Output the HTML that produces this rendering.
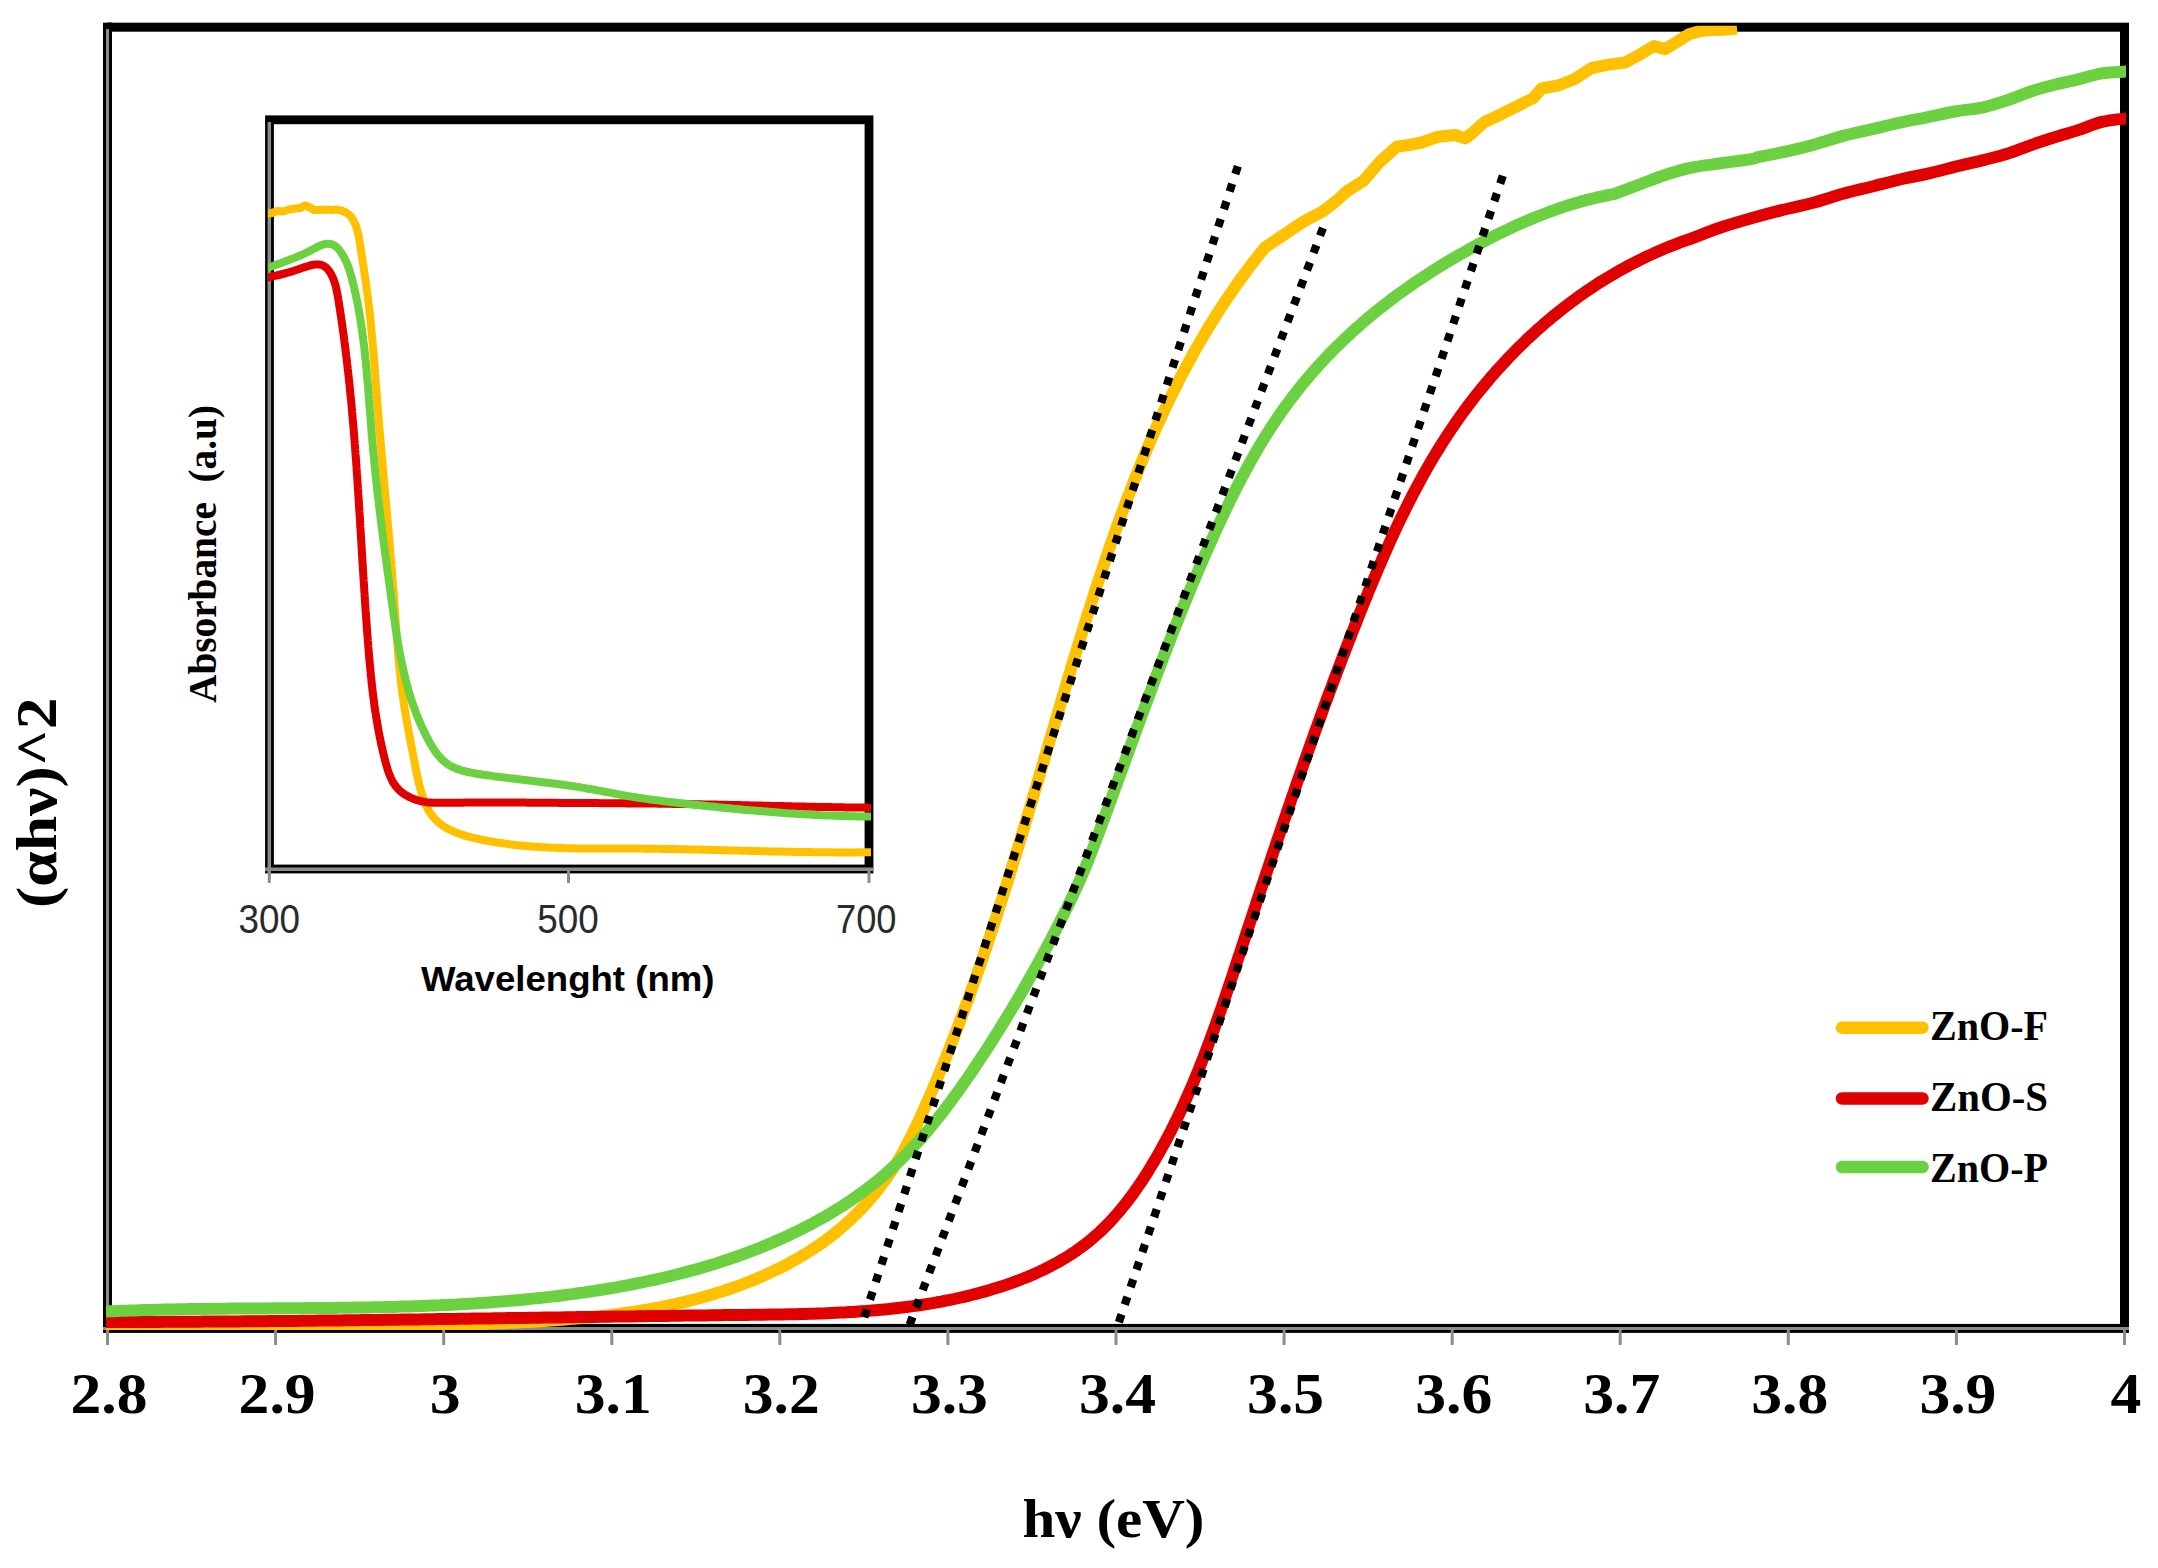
<!DOCTYPE html>
<html><head><meta charset="utf-8"><title>ZnO band gap plot</title>
<style>html,body{margin:0;padding:0;background:#fff;width:2158px;height:1568px;overflow:hidden}svg{display:block}</style>
</head><body>
<svg width="2158" height="1568" viewBox="0 0 2158 1568"><defs><clipPath id="cm"><rect x="106" y="25.7" width="2020" height="1304.3"/></clipPath>
<clipPath id="ci"><rect x="268" y="124" width="603" height="740"/></clipPath></defs>
<rect x="107.5" y="27.2" width="2017" height="1301.2" fill="none" stroke="#000" stroke-width="9"/>
<rect x="107.5" y="22.5" width="4.5" height="1" fill="#000"/>
<path d="M107.5,29V1333M103,1328.5H2129" stroke="#8C8C8C" stroke-width="3" fill="none"/>
<path d="M107.5,1328.5V1345M275.6,1328.5V1345M443.7,1328.5V1345M611.8,1328.5V1345M779.8,1328.5V1345M947.9,1328.5V1345M1116,1328.5V1345M1284.1,1328.5V1345M1452.2,1328.5V1345M1620.2,1328.5V1345M1788.3,1328.5V1345M1956.4,1328.5V1345M2124.5,1328.5V1345" stroke="#8C8C8C" stroke-width="3" fill="none"/>
<g font-family="Liberation Serif, serif" font-weight="bold" font-size="56" text-anchor="middle" fill="#000"><text x="109" y="1413" textLength="77" lengthAdjust="spacingAndGlyphs">2.8</text><text x="277.1" y="1413" textLength="77" lengthAdjust="spacingAndGlyphs">2.9</text><text x="445.2" y="1413" textLength="30.8" lengthAdjust="spacingAndGlyphs">3</text><text x="613.2" y="1413" textLength="77" lengthAdjust="spacingAndGlyphs">3.1</text><text x="781.3" y="1413" textLength="77" lengthAdjust="spacingAndGlyphs">3.2</text><text x="949.4" y="1413" textLength="77" lengthAdjust="spacingAndGlyphs">3.3</text><text x="1117.5" y="1413" textLength="77" lengthAdjust="spacingAndGlyphs">3.4</text><text x="1285.6" y="1413" textLength="77" lengthAdjust="spacingAndGlyphs">3.5</text><text x="1453.7" y="1413" textLength="77" lengthAdjust="spacingAndGlyphs">3.6</text><text x="1621.8" y="1413" textLength="77" lengthAdjust="spacingAndGlyphs">3.7</text><text x="1789.8" y="1413" textLength="77" lengthAdjust="spacingAndGlyphs">3.8</text><text x="1957.9" y="1413" textLength="77" lengthAdjust="spacingAndGlyphs">3.9</text><text x="2126" y="1413" textLength="30.8" lengthAdjust="spacingAndGlyphs">4</text></g>
<text x="1022.5" y="1536.5" font-family="Liberation Serif, serif" font-weight="bold" font-size="54" textLength="182" lengthAdjust="spacingAndGlyphs">hν (eV)</text>
<text transform="translate(55.5,908) rotate(-90)" font-family="Liberation Serif, serif" font-weight="bold" font-size="56.5" textLength="210.5" lengthAdjust="spacingAndGlyphs">(αhν)^2</text>
<g clip-path="url(#cm)" fill="none" stroke-width="12" stroke-linejoin="round" stroke-linecap="butt"><path d="M106,1326L109.7,1325.9L113.3,1325.9L117,1325.8L120.7,1325.7L124.4,1325.7L128,1325.6L131.7,1325.6L135.4,1325.5L139,1325.5L142.7,1325.4L146.4,1325.4L150.1,1325.4L153.7,1325.3L157.4,1325.3L161.1,1325.3L164.8,1325.3L168.4,1325.2L172.1,1325.2L175.8,1325.2L179.5,1325.2L183.1,1325.2L186.8,1325.2L190.5,1325.2L194.2,1325.2L197.8,1325.2L201.5,1325.2L205.2,1325.2L208.9,1325.2L212.5,1325.2L216.2,1325.2L219.9,1325.2L223.6,1325.2L227.2,1325.3L230.9,1325.3L234.6,1325.3L238.3,1325.3L241.9,1325.3L245.6,1325.3L249.3,1325.4L253,1325.4L256.6,1325.4L260.3,1325.4L264,1325.5L267.7,1325.5L271.3,1325.5L275,1325.5L278.7,1325.6L282.4,1325.6L286.1,1325.6L289.7,1325.6L293.4,1325.6L297.1,1325.7L300.8,1325.7L304.4,1325.7L308.1,1325.7L311.8,1325.8L315.5,1325.8L319.1,1325.8L322.8,1325.8L326.5,1325.8L330.2,1325.8L333.9,1325.8L337.5,1325.9L341.2,1325.9L344.9,1325.9L348.6,1325.9L352.2,1325.9L355.9,1325.9L359.6,1325.9L363.3,1325.9L366.9,1325.9L370.6,1325.9L374.3,1325.9L378,1325.8L381.6,1325.8L385.3,1325.8L389,1325.8L392.7,1325.8L396.3,1325.7L400,1325.7L403.7,1325.7L407.4,1325.6L411,1325.6L414.7,1325.6L418.4,1325.5L422.1,1325.5L425.7,1325.4L429.4,1325.3L433.1,1325.3L436.8,1325.2L440.4,1325.1L444.1,1325.1L447.8,1325L451.5,1324.9L455.1,1324.8L458.8,1324.7L462.5,1324.6L466.1,1324.5L469.8,1324.4L473.5,1324.3L477.2,1324.2L480.8,1324L484.5,1323.9L488.2,1323.8L491.8,1323.6L495.5,1323.5L499.2,1323.3L502.9,1323.2L506.5,1323L510.2,1322.8L513.9,1322.7L517.5,1322.5L521.2,1322.3L524.9,1322.1L528.5,1321.9L532.2,1321.7L535.9,1321.5L539.5,1321.2L543.2,1321L546.9,1320.8L550.5,1320.5L554.2,1320.3L557.9,1320L561.5,1319.7L565.2,1319.4L568.9,1319.1L572.5,1318.8L576.2,1318.5L579.8,1318.2L583.5,1317.9L587.1,1317.5L590.8,1317.2L594.5,1316.8L598.1,1316.4L601.7,1316L605.4,1315.6L609,1315.2L612.7,1314.7L616.3,1314.2L620,1313.8L623.6,1313.3L627.2,1312.8L630.8,1312.2L634.5,1311.7L638.1,1311.1L641.7,1310.5L645.3,1309.9L648.9,1309.3L652.5,1308.7L656.2,1308L659.8,1307.3L663.4,1306.6L666.9,1305.9L670.5,1305.1L674.1,1304.3L677.7,1303.5L681.3,1302.7L684.9,1301.9L688.4,1301L692,1300.1L695.5,1299.2L699.1,1298.3L702.6,1297.3L706.2,1296.3L709.7,1295.3L713.2,1294.2L716.8,1293.1L720.3,1292L723.8,1290.9L727.3,1289.7L730.8,1288.5L734.3,1287.3L737.7,1286.1L741.2,1284.8L744.6,1283.5L748.1,1282.1L751.5,1280.8L754.9,1279.4L758.3,1277.9L761.7,1276.5L765.1,1275L768.5,1273.4L771.8,1271.9L775.2,1270.3L778.5,1268.7L781.8,1267L785.1,1265.3L788.4,1263.6L791.6,1261.8L794.8,1260.1L798.1,1258.2L801.2,1256.4L804.4,1254.5L807.5,1252.5L810.7,1250.6L813.7,1248.6L816.8,1246.5L819.8,1244.4L822.8,1242.3L825.8,1240.2L828.7,1238L831.6,1235.8L834.5,1233.5L837.3,1231.2L840.1,1228.9L842.9,1226.5L845.6,1224.1L848.3,1221.6L851,1219.2L853.6,1216.6L856.2,1214.1L858.8,1211.5L861.3,1208.9L863.8,1206.3L866.3,1203.6L868.7,1200.9L871,1198.1L873.4,1195.3L875.7,1192.5L878,1189.7L880.2,1186.8L882.4,1183.9L884.5,1181L886.6,1178L888.7,1175L890.8,1172L892.8,1168.9L894.7,1165.9L896.6,1162.8L898.5,1159.6L900.4,1156.5L902.2,1153.3L904,1150.1L905.7,1146.9L907.4,1143.6L909.1,1140.4L910.8,1137.1L912.4,1133.8L914.1,1130.5L915.7,1127.2L917.2,1123.8L918.8,1120.5L920.3,1117.1L921.9,1113.8L923.4,1110.4L924.9,1107L926.4,1103.7L927.9,1100.3L929.4,1096.9L930.8,1093.5L932.3,1090.1L933.7,1086.7L935.2,1083.4L936.6,1080L938,1076.6L939.4,1073.2L940.8,1069.8L942.2,1066.4L943.6,1063L945,1059.6L946.4,1056.1L947.8,1052.7L949.1,1049.3L950.5,1045.9L951.8,1042.5L953.2,1039L954.5,1035.6L955.8,1032.2L957.1,1028.8L958.4,1025.3L959.7,1021.9L961,1018.5L962.3,1015L963.6,1011.6L964.9,1008.1L966.1,1004.7L967.4,1001.3L968.7,997.8L969.9,994.4L971.2,990.9L972.4,987.4L973.6,984L974.8,980.5L976.1,977.1L977.3,973.6L978.5,970.1L979.7,966.7L980.9,963.2L982.1,959.7L983.3,956.3L984.4,952.8L985.6,949.3L986.8,945.9L987.9,942.4L989.1,938.9L990.3,935.4L991.4,931.9L992.6,928.5L993.7,925L994.8,921.5L996,918L997.1,914.5L998.2,911L999.3,907.5L1000.5,904L1001.6,900.5L1002.7,897L1003.8,893.6L1004.9,890.1L1006,886.6L1007.1,883.1L1008.2,879.6L1009.3,876L1010.4,872.5L1011.4,869L1012.5,865.5L1013.6,862L1014.7,858.5L1015.7,855L1016.8,851.5L1017.9,848L1018.9,844.5L1020,841L1021.1,837.5L1022.1,833.9L1023.2,830.4L1024.2,826.9L1025.3,823.4L1026.3,819.9L1027.4,816.4L1028.4,812.8L1029.5,809.3L1030.5,805.8L1031.6,802.3L1032.6,798.8L1033.6,795.2L1034.7,791.7L1035.7,788.2L1036.8,784.7L1037.8,781.2L1038.8,777.6L1039.9,774.1L1040.9,770.6L1041.9,767.1L1043,763.5L1044,760L1045,756.5L1046.1,753L1047.1,749.4L1048.1,745.9L1049.2,742.4L1050.2,738.9L1051.2,735.3L1052.3,731.8L1053.3,728.3L1054.4,724.7L1055.4,721.2L1056.4,717.7L1057.5,714.2L1058.5,710.6L1059.6,707.1L1060.6,703.6L1061.6,700.1L1062.7,696.5L1063.7,693L1064.8,689.5L1065.8,686L1066.9,682.4L1067.9,678.9L1069,675.4L1070.1,671.9L1071.1,668.3L1072.2,664.8L1073.2,661.3L1074.3,657.8L1075.4,654.2L1076.5,650.7L1077.5,647.2L1078.6,643.7L1079.7,640.2L1080.8,636.6L1081.9,633.1L1083,629.6L1084,626.1L1085.1,622.6L1086.2,619.1L1087.3,615.5L1088.5,612L1089.6,608.5L1090.7,605L1091.8,601.5L1092.9,598L1094,594.5L1095.2,591L1096.3,587.5L1097.5,583.9L1098.6,580.4L1099.7,576.9L1100.9,573.4L1102.1,569.9L1103.2,566.4L1104.4,562.9L1105.6,559.5L1106.8,556L1107.9,552.5L1109.1,549L1110.3,545.5L1111.5,542L1112.8,538.5L1114,535.1L1115.2,531.6L1116.4,528.1L1117.7,524.6L1118.9,521.2L1120.2,517.7L1121.4,514.3L1122.7,510.8L1124,507.3L1125.3,503.9L1126.6,500.4L1127.9,497L1129.2,493.6L1130.5,490.1L1131.8,486.7L1133.1,483.3L1134.5,479.9L1135.8,476.4L1137.2,473L1138.6,469.6L1139.9,466.2L1141.3,462.8L1142.7,459.4L1144.1,456L1145.5,452.6L1147,449.2L1148.4,445.9L1149.8,442.5L1151.3,439.1L1152.8,435.8L1154.2,432.4L1155.7,429.1L1157.2,425.7L1158.7,422.4L1160.3,419.1L1161.8,415.7L1163.3,412.4L1164.9,409.1L1166.5,405.8L1168,402.5L1169.6,399.2L1171.2,395.9L1172.9,392.6L1174.5,389.3L1176.1,386.1L1177.8,382.8L1179.4,379.5L1181.1,376.3L1182.8,373.1L1184.5,369.8L1186.2,366.6L1188,363.4L1189.7,360.2L1191.5,357L1193.3,353.8L1195,350.6L1196.8,347.4L1198.7,344.2L1200.5,341L1202.3,337.9L1204.2,334.7L1206.1,331.6L1208,328.5L1209.9,325.3L1211.8,322.2L1213.7,319.1L1215.7,316L1217.6,312.9L1219.6,309.8L1221.6,306.8L1223.6,303.7L1225.7,300.6L1227.7,297.6L1229.8,294.6L1231.9,291.5L1234,288.5L1236.1,285.5L1238.2,282.5L1240.3,279.5L1242.5,276.6L1244.7,273.6L1246.9,270.6L1249.1,267.7L1251.4,264.7L1253.6,261.8L1255.9,258.9L1258.2,256L1260.5,253.1L1262.8,250.2L1265.2,247.3L1284.3,234.5L1303.5,221.6L1322.6,211.5L1336.9,200.5L1346.7,191.3L1363.4,180.9L1380,161.7L1396.7,146.7L1409.2,145L1421.7,142.5L1438.4,136.7L1455.1,135L1465.1,138.4L1471.8,133.4L1484.3,122.1L1496.8,116.3L1516.7,106.3L1533.4,98L1541.7,88.4L1558.4,85.5L1575.1,78.8L1591.7,68L1608.4,64.6L1625.1,62.5L1641.8,53.4L1654.3,45.9L1665.1,49.2L1677.8,41.4L1688.9,34.2L1700,31.1L1711.2,30L1722.3,29.7L1737,28.5" stroke="#FFC000"/><path d="M106,1322L110.4,1322L114.9,1322L119.3,1322L123.8,1322L128.2,1322L132.7,1321.9L137.1,1321.9L141.6,1321.9L146,1321.9L150.5,1321.9L154.9,1321.9L159.3,1321.9L163.8,1321.8L168.2,1321.8L172.7,1321.8L177.1,1321.8L181.5,1321.8L186,1321.7L190.4,1321.7L194.8,1321.7L199.3,1321.7L203.7,1321.6L208.1,1321.6L212.5,1321.6L217,1321.5L221.4,1321.5L225.8,1321.5L230.2,1321.5L234.7,1321.4L239.1,1321.4L243.5,1321.3L247.9,1321.3L252.3,1321.3L256.8,1321.2L261.2,1321.2L265.6,1321.2L270,1321.1L274.4,1321.1L278.9,1321L283.3,1321L287.7,1321L292.1,1320.9L296.5,1320.9L300.9,1320.8L305.3,1320.8L309.7,1320.7L314.2,1320.7L318.6,1320.6L323,1320.6L327.4,1320.5L331.8,1320.5L336.2,1320.4L340.6,1320.4L345,1320.3L349.4,1320.3L353.8,1320.2L358.2,1320.2L362.7,1320.1L367.1,1320.1L371.5,1320L375.9,1320L380.3,1319.9L384.7,1319.8L389.1,1319.8L393.5,1319.7L397.9,1319.7L402.3,1319.6L406.7,1319.6L411.1,1319.5L415.5,1319.4L419.9,1319.4L424.3,1319.3L428.7,1319.3L433.1,1319.2L437.5,1319.1L441.9,1319.1L446.3,1319L450.7,1319L455.2,1318.9L459.6,1318.8L464,1318.8L468.4,1318.7L472.8,1318.6L477.2,1318.6L481.6,1318.5L486,1318.5L490.4,1318.4L494.8,1318.3L499.2,1318.3L503.6,1318.2L508,1318.1L512.4,1318.1L516.8,1318L521.2,1317.9L525.6,1317.9L530.1,1317.8L534.5,1317.7L538.9,1317.7L543.3,1317.6L547.7,1317.6L552.1,1317.5L556.5,1317.4L560.9,1317.4L565.3,1317.3L569.8,1317.2L574.2,1317.2L578.6,1317.1L583,1317L587.4,1317L591.8,1316.9L596.2,1316.9L600.7,1316.8L605.1,1316.7L609.5,1316.7L613.9,1316.6L618.3,1316.5L622.8,1316.5L627.2,1316.4L631.6,1316.4L636,1316.3L640.4,1316.2L644.9,1316.2L649.3,1316.1L653.7,1316.1L658.2,1316L662.6,1315.9L667,1315.9L671.4,1315.8L675.9,1315.8L680.3,1315.7L684.7,1315.6L689.2,1315.6L693.6,1315.5L698,1315.5L702.5,1315.4L706.9,1315.4L711.4,1315.3L715.8,1315.2L720.3,1315.2L724.7,1315.1L729.1,1315.1L733.6,1315L738,1315L742.5,1314.9L746.9,1314.9L751.4,1314.8L755.8,1314.8L760.3,1314.7L764.7,1314.7L769.2,1314.6L773.7,1314.5L778.1,1314.5L782.6,1314.4L787,1314.3L791.5,1314.2L795.9,1314.2L800.4,1314L804.8,1313.9L809.3,1313.8L813.7,1313.7L818.2,1313.5L822.6,1313.4L827.1,1313.2L831.5,1313L835.9,1312.8L840.4,1312.6L844.8,1312.4L849.3,1312.1L853.7,1311.9L858.1,1311.6L862.5,1311.3L866.9,1311L871.4,1310.6L875.8,1310.2L880.2,1309.8L884.6,1309.4L889,1309L893.4,1308.5L897.8,1308L902.2,1307.5L906.5,1307L910.9,1306.4L915.3,1305.8L919.6,1305.2L924,1304.5L928.3,1303.8L932.7,1303.1L937,1302.3L941.4,1301.6L945.7,1300.7L950,1299.9L954.3,1299L958.6,1298L962.9,1297.1L967.2,1296.1L971.5,1295L975.8,1293.9L980,1292.8L984.3,1291.6L988.5,1290.4L992.8,1289.1L997,1287.8L1001.2,1286.5L1005.4,1285.1L1009.6,1283.7L1013.8,1282.2L1017.9,1280.6L1022.1,1279L1026.2,1277.4L1030.2,1275.7L1034.3,1273.9L1038.3,1272.1L1042.3,1270.3L1046.2,1268.3L1050.1,1266.4L1054,1264.3L1057.9,1262.2L1061.7,1260L1065.4,1257.8L1069.1,1255.5L1072.8,1253.1L1076.4,1250.7L1079.9,1248.2L1083.4,1245.6L1086.9,1242.9L1090.3,1240.2L1093.6,1237.4L1096.9,1234.5L1100.1,1231.6L1103.2,1228.6L1106.3,1225.5L1109.4,1222.4L1112.4,1219.2L1115.3,1215.9L1118.2,1212.6L1121,1209.2L1123.8,1205.8L1126.5,1202.4L1129.2,1198.9L1131.9,1195.3L1134.5,1191.7L1137,1188.1L1139.6,1184.4L1142,1180.8L1144.5,1177L1146.9,1173.3L1149.2,1169.5L1151.5,1165.7L1153.8,1161.9L1156.1,1158L1158.3,1154.2L1160.5,1150.3L1162.6,1146.4L1164.8,1142.5L1166.9,1138.6L1168.9,1134.7L1171,1130.8L1173,1126.8L1174.9,1122.8L1176.9,1118.9L1178.8,1114.9L1180.7,1110.9L1182.6,1106.9L1184.4,1102.8L1186.2,1098.8L1188,1094.8L1189.8,1090.7L1191.6,1086.6L1193.3,1082.6L1195,1078.5L1196.7,1074.4L1198.4,1070.3L1200,1066.2L1201.6,1062.1L1203.3,1057.9L1204.8,1053.8L1206.4,1049.7L1208,1045.5L1209.5,1041.4L1211.1,1037.2L1212.6,1033L1214.1,1028.9L1215.6,1024.7L1217.1,1020.5L1218.6,1016.3L1220,1012.2L1221.5,1008L1222.9,1003.8L1224.4,999.6L1225.8,995.4L1227.2,991.2L1228.6,987L1230,982.8L1231.5,978.5L1232.9,974.3L1234.2,970.1L1235.6,965.9L1237,961.7L1238.4,957.5L1239.8,953.3L1241.2,949.1L1242.6,944.9L1244,940.7L1245.3,936.5L1246.7,932.2L1248.1,928L1249.5,923.8L1250.9,919.6L1252.3,915.4L1253.7,911.2L1255.1,907L1256.4,902.8L1257.8,898.6L1259.2,894.4L1260.6,890.2L1262,886L1263.4,881.9L1264.8,877.7L1266.2,873.5L1267.6,869.3L1269,865.1L1270.4,860.9L1271.8,856.7L1273.2,852.5L1274.6,848.3L1276,844.2L1277.4,840L1278.9,835.8L1280.3,831.6L1281.7,827.4L1283.1,823.3L1284.5,819.1L1286,814.9L1287.4,810.7L1288.8,806.6L1290.3,802.4L1291.7,798.2L1293.1,794.1L1294.6,789.9L1296,785.7L1297.5,781.5L1298.9,777.4L1300.4,773.2L1301.8,769.1L1303.3,764.9L1304.7,760.7L1306.2,756.6L1307.7,752.4L1309.2,748.3L1310.6,744.1L1312.1,740L1313.6,735.8L1315.1,731.6L1316.6,727.5L1318.1,723.4L1319.6,719.2L1321.1,715.1L1322.6,710.9L1324.1,706.8L1325.6,702.6L1327.2,698.5L1328.7,694.3L1330.2,690.2L1331.8,686.1L1333.3,681.9L1334.9,677.8L1336.4,673.7L1338,669.5L1339.6,665.4L1341.1,661.3L1342.7,657.1L1344.3,653L1345.9,648.9L1347.5,644.8L1349.1,640.6L1350.7,636.5L1352.3,632.4L1353.9,628.3L1355.5,624.2L1357.2,620.1L1358.8,615.9L1360.4,611.8L1362.1,607.7L1363.7,603.6L1365.4,599.5L1367.1,595.4L1368.7,591.3L1370.4,587.2L1372.1,583.1L1373.8,579L1375.6,574.9L1377.3,570.8L1379,566.7L1380.8,562.7L1382.5,558.6L1384.3,554.5L1386.1,550.5L1387.9,546.4L1389.7,542.4L1391.5,538.4L1393.4,534.3L1395.2,530.3L1397.1,526.3L1399,522.3L1400.9,518.3L1402.9,514.3L1404.8,510.4L1406.8,506.4L1408.8,502.4L1410.8,498.5L1412.8,494.6L1414.8,490.7L1416.9,486.8L1419,482.9L1421.1,479L1423.2,475.1L1425.4,471.3L1427.6,467.4L1429.8,463.6L1432,459.8L1434.3,456L1436.6,452.2L1438.9,448.5L1441.2,444.7L1443.6,441L1446,437.3L1448.4,433.6L1450.8,429.9L1453.3,426.3L1455.8,422.6L1458.4,419L1460.9,415.4L1463.5,411.8L1466.1,408.3L1468.8,404.7L1471.5,401.2L1474.2,397.7L1476.9,394.2L1479.7,390.8L1482.5,387.4L1485.3,383.9L1488.1,380.6L1491,377.2L1493.9,373.9L1496.8,370.5L1499.8,367.3L1502.8,364L1505.8,360.8L1508.8,357.5L1511.9,354.4L1515,351.2L1518.1,348.1L1521.3,345L1524.4,341.9L1527.6,338.8L1530.9,335.8L1534.1,332.8L1537.4,329.8L1540.7,326.9L1544,324L1547.4,321.1L1550.7,318.3L1554.1,315.5L1557.6,312.7L1561,310L1564.5,307.2L1568,304.6L1571.5,301.9L1575.1,299.3L1578.7,296.7L1582.2,294.2L1585.9,291.6L1589.5,289.2L1593.2,286.7L1596.9,284.3L1600.6,281.9L1604.3,279.6L1608.1,277.3L1611.9,275.1L1615.7,272.8L1619.5,270.6L1623.4,268.5L1627.3,266.4L1631.2,264.3L1635.1,262.3L1639,260.3L1643,258.4L1647,256.4L1651,254.6L1655,252.8L1659.1,251L1663.1,249.2L1667.2,247.5L1671.3,245.9L1675.5,244.3L1679.6,242.7L1683.8,241.2L1688,239.7L1692.2,238.3L1692.2,238.2C1696.9,236.4 1710.8,230.8 1720.6,227.5C1730.4,224.2 1741,221.2 1751.2,218.3C1761.4,215.4 1771.6,212.7 1781.8,210.1C1792,207.5 1802.1,205.7 1812.3,203C1822.5,200.3 1832.7,196.6 1842.9,193.8C1853.1,191 1863.3,188.8 1873.5,186.2C1883.7,183.6 1895.2,180.6 1904.1,178.5C1913,176.4 1917.5,176.1 1926.8,173.9C1936.1,171.8 1950.5,167.9 1960,165.6C1969.5,163.3 1975.7,162.1 1983.6,160.1C1991.5,158.1 1999.4,156.3 2007.3,153.8C2015.2,151.3 2023,147.9 2030.9,145.1C2038.8,142.3 2046.7,139.7 2054.6,137.2C2062.5,134.7 2070.3,132.6 2078.2,130.1C2086.1,127.5 2093.7,123.9 2101.8,121.9C2109.9,119.9 2122.8,118.9 2127,118.3" stroke="#E00000"/><path d="M106,1311.5L110.2,1311.3L114.3,1311.2L118.5,1311L122.6,1310.8L126.8,1310.7L130.9,1310.5L135.1,1310.4L139.2,1310.2L143.4,1310.1L147.5,1310L151.7,1309.9L155.8,1309.8L160,1309.7L164.2,1309.6L168.3,1309.5L172.5,1309.4L176.7,1309.3L180.8,1309.2L185,1309.2L189.2,1309.1L193.3,1309L197.5,1309L201.7,1308.9L205.8,1308.9L210,1308.8L214.2,1308.8L218.3,1308.7L222.5,1308.7L226.7,1308.7L230.9,1308.6L235,1308.6L239.2,1308.5L243.4,1308.5L247.5,1308.5L251.7,1308.5L255.9,1308.4L260.1,1308.4L264.2,1308.4L268.4,1308.4L272.6,1308.3L276.8,1308.3L281,1308.3L285.1,1308.3L289.3,1308.2L293.5,1308.2L297.7,1308.2L301.8,1308.2L306,1308.1L310.2,1308.1L314.4,1308.1L318.5,1308L322.7,1308L326.9,1308L331.1,1307.9L335.2,1307.9L339.4,1307.8L343.6,1307.8L347.8,1307.7L352,1307.7L356.1,1307.6L360.3,1307.5L364.5,1307.5L368.7,1307.4L372.8,1307.3L377,1307.2L381.2,1307.2L385.3,1307.1L389.5,1307L393.7,1306.9L397.9,1306.7L402,1306.6L406.2,1306.5L410.4,1306.4L414.5,1306.2L418.7,1306.1L422.9,1305.9L427,1305.8L431.2,1305.6L435.4,1305.4L439.5,1305.3L443.7,1305.1L447.9,1304.9L452,1304.7L456.2,1304.5L460.4,1304.2L464.5,1304L468.7,1303.8L472.8,1303.5L477,1303.3L481.1,1303L485.3,1302.7L489.4,1302.4L493.6,1302.1L497.8,1301.8L501.9,1301.5L506.1,1301.1L510.2,1300.8L514.3,1300.4L518.5,1300.1L522.6,1299.7L526.8,1299.3L530.9,1298.9L535.1,1298.4L539.2,1298L543.3,1297.6L547.5,1297.1L551.6,1296.6L555.7,1296.2L559.9,1295.7L564,1295.1L568.1,1294.6L572.3,1294.1L576.4,1293.5L580.5,1292.9L584.6,1292.4L588.7,1291.7L592.9,1291.1L597,1290.5L601.1,1289.8L605.2,1289.2L609.3,1288.5L613.4,1287.8L617.5,1287.1L621.6,1286.3L625.7,1285.6L629.8,1284.8L633.9,1284L638,1283.2L642.1,1282.4L646.2,1281.5L650.2,1280.7L654.3,1279.8L658.4,1278.9L662.4,1278L666.5,1277L670.5,1276L674.6,1275L678.6,1274L682.6,1273L686.7,1271.9L690.7,1270.8L694.7,1269.7L698.7,1268.6L702.7,1267.5L706.7,1266.3L710.7,1265.1L714.7,1263.9L718.6,1262.6L722.6,1261.3L726.5,1260L730.5,1258.7L734.4,1257.3L738.3,1256L742.2,1254.6L746.1,1253.1L750,1251.7L753.9,1250.2L757.8,1248.7L761.7,1247.1L765.5,1245.5L769.4,1243.9L773.2,1242.3L777,1240.6L780.8,1238.9L784.6,1237.2L788.4,1235.5L792.2,1233.7L796,1231.9L799.7,1230L803.4,1228.1L807.2,1226.2L810.9,1224.3L814.6,1222.3L818.3,1220.3L821.9,1218.2L825.6,1216.2L829.2,1214.1L832.8,1211.9L836.4,1209.7L839.9,1207.5L843.4,1205.3L846.9,1203L850.4,1200.7L853.9,1198.3L857.3,1195.9L860.7,1193.5L864.1,1191L867.4,1188.5L870.7,1186L874,1183.4L877.2,1180.8L880.5,1178.2L883.6,1175.5L886.8,1172.8L889.9,1170L892.9,1167.2L896,1164.4L899,1161.5L901.9,1158.6L904.9,1155.7L907.8,1152.7L910.6,1149.7L913.5,1146.7L916.3,1143.7L919.1,1140.6L921.8,1137.5L924.6,1134.3L927.3,1131.2L930,1128L932.6,1124.8L935.2,1121.5L937.8,1118.3L940.4,1115L943,1111.7L945.5,1108.4L948,1105.1L950.5,1101.8L953,1098.4L955.5,1095L957.9,1091.6L960.4,1088.2L962.8,1084.8L965.2,1081.4L967.5,1078L969.9,1074.5L972.3,1071.1L974.6,1067.6L976.9,1064.1L979.2,1060.6L981.5,1057.2L983.8,1053.7L986.1,1050.2L988.4,1046.7L990.6,1043.2L992.9,1039.7L995.1,1036.1L997.3,1032.6L999.5,1029.1L1001.7,1025.5L1003.9,1022L1006.1,1018.4L1008.2,1014.9L1010.4,1011.3L1012.5,1007.7L1014.7,1004.2L1016.8,1000.6L1018.9,997L1021,993.4L1023.1,989.8L1025.1,986.2L1027.2,982.6L1029.2,979L1031.3,975.3L1033.3,971.7L1035.3,968.1L1037.4,964.4L1039.4,960.8L1041.4,957.1L1043.3,953.5L1045.3,949.8L1047.3,946.1L1049.2,942.4L1051.2,938.8L1053.1,935.1L1055,931.4L1056.9,927.7L1058.8,924L1060.7,920.2L1062.6,916.5L1064.5,912.8L1066.3,909.1L1068.2,905.3L1070,901.6L1071.8,897.8L1073.6,894.1L1075.3,890.3L1077.1,886.5L1078.8,882.7L1080.5,878.9L1082.1,875.1L1083.8,871.3L1085.4,867.4L1087,863.6L1088.5,859.7L1090,855.9L1091.6,852L1093.1,848.1L1094.5,844.2L1096,840.3L1097.5,836.5L1098.9,832.6L1100.4,828.7L1101.8,824.8L1103.3,820.9L1104.7,816.9L1106.1,813L1107.6,809.1L1109,805.2L1110.5,801.3L1111.9,797.4L1113.3,793.5L1114.7,789.6L1116.2,785.7L1117.6,781.7L1119,777.8L1120.4,773.9L1121.9,770L1123.3,766.1L1124.7,762.2L1126.1,758.2L1127.6,754.3L1129,750.4L1130.4,746.5L1131.8,742.6L1133.3,738.7L1134.7,734.7L1136.1,730.8L1137.5,726.9L1139,723L1140.4,719.1L1141.8,715.2L1143.3,711.2L1144.7,707.3L1146.2,703.4L1147.6,699.5L1149.1,695.6L1150.5,691.7L1152,687.8L1153.4,683.9L1154.9,680L1156.3,676L1157.8,672.1L1159.3,668.2L1160.8,664.3L1162.2,660.4L1163.7,656.5L1165.2,652.7L1166.7,648.8L1168.2,644.9L1169.7,641L1171.2,637.1L1172.7,633.2L1174.3,629.3L1175.8,625.5L1177.3,621.6L1178.9,617.7L1180.4,613.8L1182,610L1183.5,606.1L1185.1,602.2L1186.7,598.4L1188.3,594.5L1189.8,590.7L1191.4,586.8L1193,583L1194.7,579.2L1196.3,575.3L1197.9,571.5L1199.5,567.7L1201.2,563.8L1202.9,560L1204.5,556.2L1206.2,552.4L1207.9,548.6L1209.6,544.8L1211.3,541L1213,537.2L1214.7,533.4L1216.4,529.6L1218.2,525.8L1219.9,522L1221.7,518.3L1223.5,514.5L1225.3,510.7L1227.1,507L1228.9,503.2L1230.7,499.5L1232.6,495.8L1234.4,492L1236.3,488.3L1238.2,484.6L1240.1,480.9L1242,477.2L1244,473.6L1245.9,469.9L1247.9,466.3L1249.9,462.6L1252,459L1254,455.4L1256.1,451.8L1258.2,448.2L1260.3,444.6L1262.5,441.1L1264.6,437.5L1266.8,434L1269.1,430.5L1271.3,427L1273.6,423.5L1275.9,420.1L1278.3,416.6L1280.6,413.2L1283,409.8L1285.5,406.4L1287.9,403L1290.4,399.7L1292.9,396.4L1295.5,393.1L1298.1,389.8L1300.7,386.5L1303.3,383.3L1306,380.1L1308.7,376.9L1311.4,373.7L1314.2,370.6L1316.9,367.4L1319.7,364.3L1322.6,361.3L1325.4,358.2L1328.3,355.2L1331.2,352.2L1334.1,349.2L1337.1,346.3L1340,343.4L1343,340.5L1346.1,337.6L1349.1,334.8L1352.2,331.9L1355.2,329.2L1358.4,326.4L1361.5,323.6L1364.6,320.9L1367.8,318.2L1371,315.6L1374.2,312.9L1377.4,310.3L1380.7,307.7L1384,305.2L1387.3,302.6L1390.6,300.1L1393.9,297.6L1397.2,295.1L1400.6,292.7L1404,290.3L1407.4,287.9L1410.8,285.5L1414.2,283.1L1417.7,280.8L1421.1,278.5L1424.6,276.2L1428.1,273.9L1431.6,271.7L1435.1,269.4L1438.7,267.2L1442.2,265L1445.8,262.9L1449.3,260.7L1452.9,258.6L1456.5,256.5L1460.2,254.4L1463.8,252.4L1467.4,250.3L1471.1,248.3L1474.7,246.3L1478.4,244.3L1482.1,242.4L1485.8,240.4L1489.5,238.5L1493.2,236.6L1496.9,234.7L1500.7,232.9L1504.4,231.1L1508.2,229.3L1511.9,227.5L1515.7,225.8L1519.5,224.1L1523.3,222.4L1527.2,220.7L1531,219.1L1534.8,217.5L1538.7,216L1542.6,214.5L1546.5,213L1550.3,211.5L1554.3,210.1L1558.2,208.7L1562.1,207.4L1566.1,206.1L1570,204.8L1574,203.6L1578,202.5L1582,201.3L1586,200.2L1590.1,199.2L1594.1,198.2L1598.2,197.2L1602.3,196.3L1606.4,195.5L1610.5,194.7L1614.6,193.9L1614.6,193.9C1619,192.2 1632.6,187.2 1641,184C1649.4,180.8 1656.8,177.7 1665,175C1673.2,172.3 1680.7,169.8 1690,167.8C1699.3,165.9 1710.4,164.7 1720.6,163.3C1730.8,161.9 1744.6,160.3 1751.2,159.2C1757.8,158.1 1753.9,158 1760,156.7C1766.1,155.4 1778.5,153.3 1787.8,151.2C1797.1,149.1 1806.3,146.8 1815.6,144.2C1824.9,141.6 1834.1,138.4 1843.4,135.9C1852.7,133.4 1861.9,131.6 1871.2,129.4C1880.5,127.2 1889.7,124.9 1899,122.9C1908.3,120.9 1917.5,119.2 1926.8,117.3C1936.1,115.4 1945.1,113.2 1954.6,111.5C1964.1,109.8 1974.8,109.2 1983.6,107.3C1992.4,105.4 1999.4,102.8 2007.3,100.2C2015.2,97.6 2023,94.1 2030.9,91.5C2038.8,88.9 2046.7,86.8 2054.6,84.8C2062.5,82.8 2070.3,81.2 2078.2,79.3C2086.1,77.4 2093.7,74.7 2101.8,73.4C2109.9,72.1 2122.8,71.7 2127,71.4" stroke="#6CD141"/></g>
<rect x="274" y="124" width="591" height="740" fill="#fff"/>
<rect x="269.5" y="119.8" width="599.5" height="749.2" fill="none" stroke="#000" stroke-width="8.8"/>
<path d="M269.3,122V873M265,869.2H873" stroke="#8C8C8C" stroke-width="3.5" fill="none"/>
<path d="M269.3,869V883M568.5,869V883M869,869V883" stroke="#8C8C8C" stroke-width="3" fill="none"/>
<g clip-path="url(#ci)" fill="none" stroke-width="8" stroke-linejoin="round"><path d="M266,214L272,213L277,211L283,211.5L289,209.5L295,208.5L300,208L305.5,205.5L310,207.5L314,210L320,210L326,209.5L332,210L337,209.5L342.7,211.2L347,213L350,215.5L351.3,217.2L352.5,219L353.5,220.8L354.5,222.7L355.3,224.5L356.1,226.5L356.7,228.4L357.3,230.4L357.8,232.5L358.3,234.5L358.7,236.6L359.1,238.6L359.5,240.7L359.8,242.8L360.1,244.9L360.4,247L360.8,249.1L361.1,251.2L361.4,253.3L361.7,255.4L362.1,257.5L362.4,259.6L362.7,261.7L363,263.8L363.4,265.9L363.7,268L364,270.1L364.3,272.2L364.6,274.3L364.9,276.4L365.3,278.5L365.6,280.6L365.9,282.7L366.2,284.8L366.4,286.9L366.7,289L367,291.1L367.3,293.2L367.6,295.3L367.8,297.4L368.1,299.5L368.4,301.6L368.6,303.7L368.9,305.8L369.1,307.9L369.3,310L369.6,312.1L369.8,314.2L370,316.3L370.3,318.4L370.5,320.5L370.7,322.6L370.9,324.8L371.1,326.9L371.3,329L371.5,331.1L371.7,333.2L371.9,335.3L372.1,337.4L372.3,339.5L372.5,341.6L372.7,343.7L372.9,345.8L373.1,348L373.2,350.1L373.4,352.2L373.6,354.3L373.8,356.4L373.9,358.5L374.1,360.6L374.3,362.7L374.5,364.8L374.6,366.9L374.8,369.1L375,371.2L375.1,373.3L375.3,375.4L375.4,377.5L375.6,379.6L375.8,381.7L375.9,383.8L376.1,386L376.3,388.1L376.4,390.2L376.6,392.3L376.8,394.4L376.9,396.5L377.1,398.6L377.2,400.7L377.4,402.8L377.6,405L377.7,407.1L377.9,409.2L378.1,411.3L378.2,413.4L378.4,415.5L378.6,417.6L378.8,419.7L378.9,421.8L379.1,423.9L379.3,426.1L379.5,428.2L379.6,430.3L379.8,432.4L380,434.5L380.2,436.6L380.4,438.7L380.5,440.8L380.7,442.9L380.9,445L381.1,447.1L381.3,449.3L381.4,451.4L381.6,453.5L381.8,455.6L382,457.7L382.2,459.8L382.4,461.9L382.6,464L382.7,466.1L382.9,468.2L383.1,470.3L383.3,472.4L383.5,474.6L383.7,476.7L383.9,478.8L384.1,480.9L384.2,483L384.4,485.1L384.6,487.2L384.8,489.3L385,491.4L385.2,493.5L385.4,495.6L385.6,497.7L385.8,499.9L385.9,502L386.1,504.1L386.3,506.2L386.5,508.3L386.7,510.4L386.9,512.5L387.1,514.6L387.3,516.7L387.4,518.8L387.6,520.9L387.8,523.1L388,525.2L388.2,527.3L388.4,529.4L388.6,531.5L388.7,533.6L388.9,535.7L389.1,537.8L389.3,539.9L389.5,542L389.7,544.2L389.8,546.3L390,548.4L390.2,550.5L390.4,552.6L390.6,554.7L390.7,556.8L390.9,558.9L391.1,561L391.3,563.2L391.4,565.3L391.6,567.4L391.8,569.5L391.9,571.6L392.1,573.7L392.3,575.8L392.5,577.9L392.6,580.1L392.8,582.2L392.9,584.3L393.1,586.4L393.3,588.5L393.4,590.6L393.6,592.7L393.8,594.8L393.9,597L394.1,599.1L394.2,601.2L394.4,603.3L394.5,605.4L394.7,607.5L394.8,609.7L395,611.8L395.1,613.9L395.3,616L395.4,618.1L395.6,620.2L395.7,622.4L395.9,624.5L396,626.6L396.2,628.7L396.3,630.8L396.5,632.9L396.7,635L396.8,637.2L397,639.3L397.1,641.4L397.3,643.5L397.5,645.6L397.6,647.7L397.8,649.8L398,652L398.2,654.1L398.4,656.2L398.5,658.3L398.7,660.4L398.9,662.5L399.1,664.6L399.3,666.7L399.5,668.8L399.8,670.9L400,673L400.2,675.1L400.4,677.2L400.7,679.3L400.9,681.4L401.1,683.5L401.4,685.6L401.7,687.7L401.9,689.8L402.2,691.9L402.5,694L402.8,696.1L403.1,698.2L403.4,700.3L403.7,702.3L404,704.4L404.3,706.5L404.6,708.6L405,710.7L405.3,712.8L405.7,714.8L406,716.9L406.4,719L406.7,721.1L407.1,723.1L407.5,725.2L407.9,727.3L408.3,729.4L408.6,731.4L409,733.5L409.4,735.6L409.8,737.7L410.2,739.7L410.6,741.8L411,743.9L411.4,746L411.8,748L412.2,750.1L412.6,752.2L413,754.3L413.4,756.3L413.8,758.4L414.2,760.5L414.6,762.6L415,764.6L415.4,766.7L415.8,768.8L416.2,770.9L416.6,773L417,775.1L417.5,777.2L418,779.3L418.4,781.4L418.9,783.5L419.5,785.6L420,787.7L420.6,789.8L421.2,791.9L421.9,794L422.6,796.2L423.3,798.3L424,800.4L424.9,802.4L425.7,804.5L426.6,806.5L427.6,808.4L428.6,810.3L429.7,812.1L430.9,813.9L432.1,815.6L433.4,817.2L434.7,818.7L436.1,820.1L437.6,821.5L439.1,822.8L440.7,824.1L442.3,825.3L444,826.4L445.7,827.5L447.4,828.5L449.2,829.5L451.1,830.4L453,831.3L454.9,832.1L456.8,832.8L458.8,833.6L460.7,834.3L462.8,834.9L464.8,835.6L466.8,836.2L468.9,836.7L471,837.3L473.1,837.8L475.2,838.3L477.3,838.7L479.4,839.2L481.5,839.6L483.6,840.1L485.7,840.5L487.8,840.9L489.9,841.3L492,841.6L494.1,842L496.3,842.4L498.4,842.7L500.5,843L502.6,843.3L504.7,843.6L506.8,843.9L508.9,844.2L511,844.4L513.1,844.7L515.2,844.9L517.4,845.2L519.5,845.4L521.6,845.6L523.7,845.8L525.8,846L527.9,846.2L530,846.4L532.1,846.5L534.2,846.7L536.4,846.8L538.5,847L540.6,847.1L542.7,847.2L544.8,847.3L546.9,847.5L549,847.6L551.1,847.7L553.3,847.7L555.4,847.8L557.5,847.9L559.6,848L561.7,848L563.8,848.1L565.9,848.2L568.1,848.2L570.2,848.3L572.3,848.3L574.4,848.3L576.5,848.4L578.6,848.4L580.7,848.4L582.9,848.4L585,848.5L587.1,848.5L589.2,848.5L591.3,848.5L593.4,848.5L595.6,848.5L597.7,848.5L599.8,848.5L601.9,848.5L604,848.5L606.1,848.5L608.2,848.5L610.4,848.5L612.5,848.5L614.6,848.5L616.7,848.5L618.8,848.5L620.9,848.5L623.1,848.5L625.2,848.6L627.3,848.6L629.4,848.6L631.5,848.6L633.6,848.6L635.8,848.6L637.9,848.6L640,848.6L642.1,848.6L644.2,848.7L646.4,848.7L648.5,848.7L650.6,848.7L652.7,848.8L654.8,848.8L656.9,848.8L659.1,848.8L661.2,848.9L663.3,848.9L665.4,848.9L667.5,849L669.6,849L671.8,849L673.9,849.1L676,849.1L678.1,849.2L680.2,849.2L682.4,849.3L684.5,849.3L686.6,849.3L688.7,849.4L690.8,849.4L693,849.5L695.1,849.5L697.2,849.6L699.3,849.6L701.4,849.7L703.5,849.7L705.7,849.8L707.8,849.8L709.9,849.9L712,849.9L714.1,850L716.3,850L718.4,850.1L720.5,850.1L722.6,850.2L724.7,850.2L726.8,850.3L729,850.4L731.1,850.4L733.2,850.5L735.3,850.5L737.4,850.6L739.6,850.6L741.7,850.7L743.8,850.7L745.9,850.8L748,850.8L750.2,850.9L752.3,850.9L754.4,851L756.5,851.1L758.6,851.1L760.8,851.2L762.9,851.2L765,851.3L767.1,851.3L769.2,851.4L771.3,851.4L773.5,851.4L775.6,851.5L777.7,851.5L779.8,851.6L781.9,851.6L784.1,851.7L786.2,851.7L788.3,851.8L790.4,851.8L792.5,851.8L794.7,851.9L796.8,851.9L798.9,852L801,852L803.1,852L805.2,852.1L807.4,852.1L809.5,852.1L811.6,852.1L813.7,852.2L815.8,852.2L818,852.2L820.1,852.2L822.2,852.3L824.3,852.3L826.4,852.3L828.5,852.3L830.7,852.3L832.8,852.3L834.9,852.4L837,852.4L839.1,852.4L841.2,852.4L843.4,852.4L845.5,852.4L847.6,852.4L849.7,852.4L851.8,852.4L853.9,852.4L856.1,852.4L858.2,852.3L860.3,852.3L862.4,852.3L864.5,852.3L866.7,852.3L868.8,852.3L870.9,852.2L873,852.2" stroke="#FFC000"/><path d="M266,278L268.2,277.5L270.4,276.9L272.5,276.4L274.6,275.9L276.7,275.5L278.7,275L280.7,274.5L282.7,274L284.7,273.5L286.7,272.9L288.7,272.4L290.7,271.8L292.8,271.2L294.8,270.5L296.9,269.8L299,269.1L301.2,268.3L303.3,267.6L305.5,266.8L307.7,266.2L309.9,265.5L312.2,265L314.3,264.6L316.5,264.4L318.6,264.4L320.6,264.7L322.4,265.3L324.1,266.1L325.7,267.2L327.2,268.6L328.5,270.2L329.7,271.9L330.8,273.6L331.8,275.5L332.7,277.4L333.5,279.3L334.2,281.3L334.9,283.3L335.5,285.4L336,287.4L336.5,289.5L336.9,291.6L337.3,293.7L337.7,295.9L338.1,298L338.4,300.1L338.8,302.3L339.1,304.4L339.4,306.5L339.8,308.7L340.1,310.8L340.4,312.9L340.7,315.1L341.1,317.2L341.4,319.3L341.7,321.5L342,323.6L342.3,325.8L342.6,327.9L342.9,330L343.2,332.2L343.5,334.3L343.8,336.4L344.1,338.6L344.3,340.7L344.6,342.8L344.9,345L345.2,347.1L345.4,349.3L345.7,351.4L346,353.5L346.2,355.7L346.5,357.8L346.7,359.9L347,362.1L347.2,364.2L347.5,366.4L347.7,368.5L348,370.6L348.2,372.8L348.4,374.9L348.7,377L348.9,379.2L349.1,381.3L349.4,383.5L349.6,385.6L349.8,387.7L350,389.9L350.2,392L350.4,394.1L350.6,396.3L350.9,398.4L351.1,400.6L351.3,402.7L351.5,404.8L351.7,407L351.9,409.1L352,411.3L352.2,413.4L352.4,415.5L352.6,417.7L352.8,419.8L353,421.9L353.2,424.1L353.4,426.2L353.5,428.4L353.7,430.5L353.9,432.6L354.1,434.8L354.2,436.9L354.4,439.1L354.6,441.2L354.7,443.3L354.9,445.5L355.1,447.6L355.2,449.8L355.4,451.9L355.5,454L355.7,456.2L355.9,458.3L356,460.5L356.2,462.6L356.3,464.7L356.5,466.9L356.6,469L356.8,471.2L356.9,473.3L357.1,475.4L357.2,477.6L357.4,479.7L357.5,481.9L357.6,484L357.8,486.1L357.9,488.3L358.1,490.4L358.2,492.6L358.3,494.7L358.5,496.8L358.6,499L358.8,501.1L358.9,503.3L359,505.4L359.2,507.5L359.3,509.7L359.4,511.8L359.6,514L359.7,516.1L359.8,518.2L360,520.4L360.1,522.5L360.2,524.7L360.3,526.8L360.5,528.9L360.6,531.1L360.7,533.2L360.9,535.4L361,537.5L361.1,539.6L361.3,541.8L361.4,543.9L361.5,546.1L361.7,548.2L361.8,550.4L361.9,552.5L362,554.6L362.2,556.8L362.3,558.9L362.4,561.1L362.6,563.2L362.7,565.3L362.8,567.5L363,569.6L363.1,571.8L363.2,573.9L363.4,576.1L363.5,578.2L363.6,580.3L363.8,582.5L363.9,584.6L364.1,586.8L364.2,588.9L364.3,591.1L364.5,593.2L364.6,595.3L364.8,597.5L364.9,599.6L365,601.8L365.2,603.9L365.3,606.1L365.5,608.2L365.6,610.3L365.8,612.5L365.9,614.6L366.1,616.8L366.2,618.9L366.4,621.1L366.5,623.2L366.7,625.3L366.8,627.5L367,629.6L367.2,631.8L367.3,633.9L367.5,636.1L367.7,638.2L367.8,640.3L368,642.5L368.2,644.6L368.3,646.8L368.5,648.9L368.7,651.1L368.9,653.2L369,655.4L369.2,657.5L369.4,659.6L369.6,661.8L369.8,663.9L370,666.1L370.2,668.2L370.4,670.3L370.6,672.5L370.8,674.6L371,676.8L371.3,678.9L371.5,681L371.7,683.2L371.9,685.3L372.2,687.5L372.4,689.6L372.7,691.7L372.9,693.9L373.2,696L373.5,698.1L373.8,700.3L374,702.4L374.3,704.5L374.6,706.6L374.9,708.8L375.2,710.9L375.6,713L375.9,715.1L376.2,717.3L376.6,719.4L376.9,721.5L377.3,723.6L377.6,725.7L378,727.8L378.4,729.9L378.8,732.1L379.2,734.2L379.6,736.3L380,738.4L380.5,740.5L380.9,742.6L381.3,744.7L381.8,746.8L382.3,748.9L382.8,751L383.3,753.1L383.8,755.2L384.3,757.2L384.8,759.3L385.3,761.4L385.9,763.5L386.5,765.6L387.1,767.6L387.7,769.7L388.4,771.7L389.1,773.7L389.9,775.6L390.7,777.6L391.6,779.5L392.5,781.3L393.6,783.1L394.7,784.8L396,786.5L397.3,788.1L398.7,789.6L400.3,791.1L402,792.5L403.7,793.8L405.6,795L407.6,796.1L409.6,797.2L411.6,798.1L413.8,799L415.9,799.8L418.1,800.4L420.2,801L422.4,801.5L424.5,801.9L426.6,802.2L428.8,802.4L430.9,802.5L433,802.7L435.1,802.7L437.2,802.7L439.3,802.7L441.4,802.7L443.5,802.7L445.6,802.7L447.7,802.7L449.9,802.7L452,802.7L454.1,802.7L456.3,802.7L458.4,802.7L460.6,802.7L462.7,802.7L464.9,802.6L467,802.6L469.2,802.6L471.3,802.6L473.5,802.6L475.7,802.6L477.8,802.6L480,802.6L482.2,802.6L484.3,802.6L486.5,802.6L488.6,802.6L490.8,802.6L493,802.6L495.1,802.6L497.3,802.6L499.4,802.6L501.6,802.6L503.8,802.6L505.9,802.6L508.1,802.6L510.2,802.6L512.4,802.6L514.5,802.6L516.7,802.6L518.8,802.6L521,802.6L523.1,802.6L525.3,802.6L527.4,802.7L529.6,802.7L531.7,802.7L533.9,802.7L536,802.7L538.2,802.7L540.3,802.7L542.4,802.7L544.6,802.8L546.7,802.8L548.9,802.8L551,802.8L553.2,802.8L555.3,802.8L557.4,802.8L559.6,802.9L561.7,802.9L563.9,802.9L566,802.9L568.2,802.9L570.3,802.9L572.4,802.9L574.6,803L576.7,803L578.9,803L581,803L583.2,803L585.3,803L587.4,803.1L589.6,803.1L591.7,803.1L593.9,803.1L596,803.1L598.2,803.1L600.3,803.2L602.5,803.2L604.6,803.2L606.8,803.2L608.9,803.2L611,803.2L613.2,803.2L615.3,803.3L617.5,803.3L619.6,803.3L621.8,803.3L623.9,803.3L626.1,803.4L628.2,803.4L630.4,803.4L632.5,803.4L634.7,803.4L636.8,803.4L639,803.5L641.1,803.5L643.3,803.5L645.4,803.5L647.5,803.6L649.7,803.6L651.8,803.6L654,803.6L656.1,803.6L658.3,803.7L660.4,803.7L662.6,803.7L664.7,803.7L666.9,803.8L669,803.8L671.2,803.8L673.3,803.9L675.5,803.9L677.6,803.9L679.8,804L681.9,804L684.1,804L686.2,804.1L688.4,804.1L690.5,804.1L692.7,804.2L694.8,804.2L697,804.2L699.1,804.3L701.3,804.3L703.4,804.4L705.5,804.4L707.7,804.4L709.8,804.5L712,804.5L714.1,804.6L716.3,804.6L718.4,804.7L720.6,804.7L722.7,804.7L724.9,804.8L727,804.8L729.2,804.9L731.3,804.9L733.5,805L735.6,805L737.8,805.1L739.9,805.1L742,805.2L744.2,805.2L746.3,805.3L748.5,805.3L750.6,805.4L752.8,805.4L754.9,805.5L757.1,805.5L759.2,805.6L761.4,805.6L763.5,805.7L765.7,805.7L767.8,805.8L769.9,805.8L772.1,805.9L774.2,805.9L776.4,806L778.5,806L780.7,806.1L782.8,806.1L785,806.2L787.1,806.2L789.3,806.3L791.4,806.3L793.6,806.4L795.7,806.4L797.8,806.5L800,806.5L802.1,806.6L804.3,806.6L806.4,806.7L808.6,806.7L810.7,806.8L812.9,806.8L815,806.8L817.2,806.9L819.3,806.9L821.5,807L823.6,807L825.8,807.1L827.9,807.1L830,807.1L832.2,807.2L834.3,807.2L836.5,807.2L838.6,807.3L840.8,807.3L842.9,807.3L845.1,807.4L847.2,807.4L849.4,807.4L851.5,807.5L853.7,807.5L855.8,807.5L858,807.6L860.1,807.6L862.3,807.6L864.4,807.6L866.6,807.6L868.7,807.7L870.9,807.7L873,807.7" stroke="#E00000"/><path d="M266,268.5L268,267.7L270.1,267L272,266.2L274,265.5L276,264.8L278,264.1L279.9,263.4L281.8,262.7L283.8,262L285.7,261.3L287.6,260.6L289.5,259.8L291.4,259.1L293.3,258.4L295.2,257.6L297.1,256.8L299,256L300.9,255.2L302.8,254.4L304.7,253.5L306.7,252.5L308.6,251.6L310.6,250.6L312.5,249.5L314.5,248.5L316.5,247.4L318.5,246.4L320.5,245.5L322.4,244.8L324.4,244.2L326.4,243.8L328.4,243.7L330.3,243.9L332.1,244.3L333.9,245.1L335.5,246.2L337,247.5L338.5,249L339.8,250.6L341,252.4L342.2,254.2L343.3,256L344.3,257.8L345.3,259.7L346.2,261.6L347,263.5L347.8,265.5L348.5,267.4L349.2,269.4L349.8,271.4L350.4,273.4L351,275.4L351.6,277.4L352.1,279.5L352.6,281.5L353.1,283.5L353.6,285.5L354.1,287.6L354.6,289.6L355,291.7L355.5,293.7L355.9,295.7L356.4,297.8L356.8,299.8L357.2,301.9L357.6,303.9L358,306L358.4,308L358.7,310.1L359.1,312.1L359.5,314.2L359.8,316.2L360.2,318.3L360.5,320.4L360.8,322.4L361.1,324.5L361.5,326.5L361.8,328.6L362,330.7L362.3,332.7L362.6,334.8L362.9,336.9L363.2,339L363.4,341L363.7,343.1L363.9,345.2L364.2,347.2L364.4,349.3L364.7,351.4L364.9,353.5L365.1,355.6L365.3,357.6L365.5,359.7L365.8,361.8L366,363.9L366.2,366L366.4,368L366.6,370.1L366.8,372.2L366.9,374.3L367.1,376.4L367.3,378.5L367.5,380.6L367.7,382.6L367.8,384.7L368,386.8L368.2,388.9L368.4,391L368.5,393.1L368.7,395.2L368.9,397.2L369,399.3L369.2,401.4L369.3,403.5L369.5,405.6L369.7,407.7L369.8,409.8L370,411.9L370.1,413.9L370.3,416L370.5,418.1L370.6,420.2L370.8,422.3L371,424.4L371.1,426.5L371.3,428.5L371.5,430.6L371.6,432.7L371.8,434.8L372,436.9L372.2,439L372.3,441L372.5,443.1L372.7,445.2L372.9,447.3L373.1,449.4L373.3,451.4L373.5,453.5L373.7,455.6L373.9,457.7L374.1,459.8L374.3,461.8L374.5,463.9L374.7,466L374.9,468.1L375.1,470.1L375.3,472.2L375.5,474.3L375.8,476.4L376,478.4L376.2,480.5L376.4,482.6L376.7,484.7L376.9,486.7L377.1,488.8L377.4,490.9L377.6,492.9L377.8,495L378.1,497.1L378.3,499.2L378.5,501.2L378.8,503.3L379,505.4L379.3,507.4L379.5,509.5L379.8,511.6L380,513.6L380.3,515.7L380.5,517.8L380.8,519.8L381.1,521.9L381.3,524L381.6,526.1L381.8,528.1L382.1,530.2L382.4,532.3L382.6,534.3L382.9,536.4L383.2,538.5L383.4,540.5L383.7,542.6L384,544.7L384.3,546.7L384.5,548.8L384.8,550.9L385.1,553L385.4,555L385.6,557.1L385.9,559.2L386.2,561.2L386.5,563.3L386.8,565.4L387,567.5L387.3,569.5L387.6,571.6L387.9,573.7L388.2,575.7L388.5,577.8L388.7,579.9L389,582L389.3,584L389.6,586.1L389.9,588.2L390.2,590.3L390.5,592.3L390.8,594.4L391,596.5L391.3,598.6L391.6,600.6L391.9,602.7L392.2,604.8L392.5,606.9L392.8,609L393.1,611L393.4,613.1L393.7,615.2L394,617.3L394.3,619.4L394.6,621.4L394.9,623.5L395.2,625.6L395.5,627.7L395.8,629.7L396.2,631.8L396.5,633.9L396.8,636L397.2,638L397.5,640.1L397.9,642.2L398.2,644.2L398.6,646.3L398.9,648.3L399.3,650.4L399.7,652.5L400.1,654.5L400.5,656.6L400.9,658.6L401.3,660.7L401.7,662.7L402.2,664.8L402.6,666.8L403.1,668.8L403.5,670.9L404,672.9L404.5,674.9L405,677L405.5,679L406,681L406.5,683L407,685L407.6,687L408.1,689L408.7,691L409.3,693L409.9,695L410.5,697L411.1,699L411.8,700.9L412.4,702.9L413.1,704.9L413.8,706.8L414.5,708.8L415.2,710.7L415.9,712.7L416.7,714.6L417.5,716.6L418.2,718.5L419,720.4L419.8,722.3L420.7,724.2L421.5,726.1L422.4,728L423.3,729.9L424.2,731.8L425.1,733.7L426.1,735.6L427,737.4L428,739.3L429,741.1L430,743L431.1,744.8L432.2,746.6L433.3,748.4L434.4,750.2L435.6,751.9L436.8,753.5L438.1,755.2L439.4,756.7L440.8,758.2L442.2,759.7L443.7,761L445.2,762.3L446.8,763.5L448.5,764.7L450.2,765.7L452,766.7L453.9,767.5L455.7,768.4L457.7,769.1L459.7,769.8L461.7,770.4L463.7,771L465.8,771.5L467.9,772L470.1,772.5L472.2,772.9L474.4,773.3L476.5,773.7L478.7,774L480.8,774.3L483,774.7L485.2,775L487.3,775.3L489.5,775.6L491.6,775.9L493.7,776.2L495.8,776.4L497.9,776.7L500,777L502.1,777.3L504.2,777.5L506.3,777.8L508.4,778L510.5,778.3L512.6,778.5L514.6,778.8L516.7,779L518.8,779.3L520.8,779.5L522.9,779.8L524.9,780L527,780.2L529,780.5L531,780.7L533.1,780.9L535.1,781.2L537.2,781.4L539.2,781.7L541.2,781.9L543.2,782.2L545.3,782.4L547.3,782.7L549.3,782.9L551.4,783.2L553.4,783.4L555.4,783.7L557.4,783.9L559.5,784.2L561.5,784.5L563.5,784.8L565.6,785.1L567.6,785.4L569.6,785.6L571.7,786L573.7,786.3L575.8,786.6L577.8,786.9L579.9,787.2L581.9,787.6L584,787.9L586,788.3L588.1,788.7L590.1,789L592.2,789.4L594.3,789.8L596.4,790.2L598.4,790.6L600.5,790.9L602.6,791.3L604.7,791.7L606.8,792.1L608.8,792.5L610.9,792.9L613,793.3L615.1,793.7L617.2,794.1L619.3,794.5L621.3,794.9L623.4,795.2L625.5,795.6L627.6,796L629.7,796.3L631.7,796.7L633.8,797L635.9,797.3L638,797.7L640,798L642.1,798.3L644.2,798.6L646.2,798.9L648.3,799.2L650.4,799.5L652.5,799.8L654.5,800L656.6,800.3L658.7,800.6L660.7,800.8L662.8,801.1L664.8,801.4L666.9,801.6L669,801.9L671,802.1L673.1,802.3L675.2,802.6L677.2,802.8L679.3,803.1L681.4,803.3L683.4,803.5L685.5,803.7L687.6,804L689.6,804.2L691.7,804.4L693.8,804.7L695.8,804.9L697.9,805.1L700,805.3L702.1,805.5L704.1,805.8L706.2,806L708.3,806.2L710.3,806.4L712.4,806.6L714.5,806.8L716.6,807L718.7,807.3L720.7,807.5L722.8,807.7L724.9,807.9L727,808.1L729,808.3L731.1,808.5L733.2,808.7L735.3,808.9L737.4,809.1L739.4,809.3L741.5,809.5L743.6,809.7L745.7,809.9L747.8,810L749.9,810.2L751.9,810.4L754,810.6L756.1,810.8L758.2,811L760.3,811.1L762.4,811.3L764.5,811.5L766.5,811.6L768.6,811.8L770.7,812L772.8,812.1L774.9,812.3L777,812.5L779.1,812.6L781.2,812.8L783.2,812.9L785.3,813.1L787.4,813.2L789.5,813.4L791.6,813.5L793.7,813.6L795.8,813.8L797.9,813.9L799.9,814L802,814.2L804.1,814.3L806.2,814.4L808.3,814.5L810.4,814.6L812.5,814.7L814.6,814.9L816.7,815L818.7,815.1L820.8,815.2L822.9,815.3L825,815.4L827.1,815.4L829.2,815.5L831.3,815.6L833.4,815.7L835.5,815.8L837.5,815.8L839.6,815.9L841.7,816L843.8,816L845.9,816.1L848,816.1L850.1,816.2L852.2,816.2L854.2,816.3L856.3,816.3L858.4,816.4L860.5,816.4L862.6,816.4L864.7,816.4L866.7,816.5L868.8,816.5L870.9,816.5L873,816.5" stroke="#6CD141"/></g>
<g font-family="Liberation Sans, sans-serif" font-size="40" fill="#2a2a2a" text-anchor="middle"><text x="269.3" y="932.5" textLength="61.5" lengthAdjust="spacingAndGlyphs">300</text><text x="568" y="932.5" textLength="61.5" lengthAdjust="spacingAndGlyphs">500</text><text x="866.3" y="932.5" textLength="60.5" lengthAdjust="spacingAndGlyphs">700</text></g>
<text x="421" y="990.5" font-family="Liberation Sans, sans-serif" font-weight="bold" font-size="35" textLength="293.5" lengthAdjust="spacingAndGlyphs">Wavelenght (nm)</text>
<text transform="translate(216.3,703) rotate(-90)" font-family="Liberation Serif, serif" font-weight="bold" font-size="41" textLength="298" lengthAdjust="spacingAndGlyphs" style="white-space:pre">Absorbance  (a.u)</text>
<path d="M1237.87,166.20L864.33,1317.20" stroke="#000" stroke-width="8.2" stroke-dasharray="8.20 10.291" fill="none"/>
<path d="M1322.95,227.96L909.65,1324.74" stroke="#000" stroke-width="8.2" stroke-dasharray="8.20 10.274" fill="none"/>
<path d="M1502.80,175.81L1118.90,1322.19" stroke="#000" stroke-width="8.2" stroke-dasharray="8.20 10.273" fill="none"/>
<path d="M1842,1027.7H1922.5" stroke="#FFC000" stroke-width="12.5" stroke-linecap="round"/><path d="M1842,1098.5H1922.5" stroke="#E00000" stroke-width="12.5" stroke-linecap="round"/><path d="M1842,1167H1922.5" stroke="#6CD141" stroke-width="12.5" stroke-linecap="round"/>
<g font-family="Liberation Serif, serif" font-weight="bold" font-size="43" fill="#000"><text x="1930" y="1039.8" textLength="118" lengthAdjust="spacingAndGlyphs">ZnO-F</text><text x="1930" y="1111" textLength="118" lengthAdjust="spacingAndGlyphs">ZnO-S</text><text x="1930" y="1182" textLength="118" lengthAdjust="spacingAndGlyphs">ZnO-P</text></g></svg>
</body></html>
